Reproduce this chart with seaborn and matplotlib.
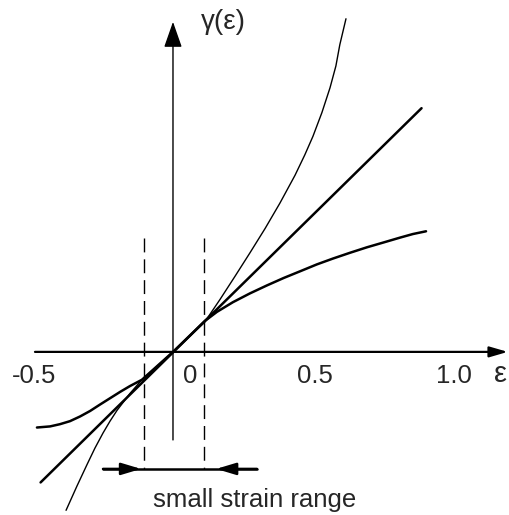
import numpy as np
import pandas as pd
import matplotlib
matplotlib.use('Agg')
import matplotlib.pyplot as plt
import seaborn as sns

# Values (strain eps, gamma(eps))
line_eps = [-0.473, 0.888]
line_gam = [-0.473, 0.883]

# thin curve (stiffening), lower-left branch then upper-right branch
stiff_eps = [-0.382, -0.343, -0.307, -0.279, -0.250, -0.225, -0.200, -0.154, -0.111,
             0.0, 0.114, 0.168, 0.221, 0.275, 0.329, 0.382, 0.436, 0.471, 0.500,
             0.532, 0.561, 0.582, 0.596, 0.618]
stiff_gam = [-0.574, -0.486, -0.408, -0.349, -0.294, -0.251, -0.212, -0.151, -0.101,
             0.0, 0.109, 0.190, 0.273, 0.359, 0.447, 0.539, 0.640, 0.714, 0.781,
             0.867, 0.957, 1.036, 1.113, 1.207]

# thick curve (softening)
soft_eps = [-0.486, -0.439, -0.404, -0.368, -0.332, -0.296, -0.261, -0.225, -0.189,
            -0.154, -0.111, 0.0, 0.114, 0.157, 0.214, 0.275, 0.336, 0.396, 0.454,
            0.514, 0.571, 0.632, 0.693, 0.754, 0.811, 0.857, 0.904]
soft_gam = [-0.274, -0.270, -0.262, -0.251, -0.234, -0.214, -0.191, -0.168, -0.145,
            -0.124, -0.101, 0.0, 0.112, 0.145, 0.180, 0.212, 0.241, 0.268, 0.292,
            0.317, 0.338, 0.359, 0.379, 0.397, 0.414, 0.427, 0.437]

small_range = [-0.104, 0.111]
tick_labels = ['-0.5', '0', '0.5', '1.0']

sns.set_style('white')
plt.rcParams['font.family'] = ['Liberation Sans', 'DejaVu Sans']

fig = plt.figure(figsize=(5.1, 5.15), dpi=100)
ax = fig.add_axes([0, 0, 1, 1])
ax.set_xlim(-0.618, 1.204)
ax.set_ylim(-0.591, 1.275)
ax.axis('off')

df_line = pd.DataFrame({'eps': line_eps, 'gam': line_gam})
df_stiff = pd.DataFrame({'eps': stiff_eps, 'gam': stiff_gam})
df_soft = pd.DataFrame({'eps': soft_eps, 'gam': soft_gam})

sns.lineplot(data=df_stiff, x='eps', y='gam', sort=False, estimator=None,
             color='black', linewidth=1.0, ax=ax)
sns.lineplot(data=df_soft, x='eps', y='gam', sort=False, estimator=None,
             color='black', linewidth=1.8, ax=ax)
sns.lineplot(data=df_line, x='eps', y='gam', sort=False, estimator=None,
             color='black', linewidth=1.8, ax=ax)

# axes with arrows
ax.annotate('', xy=(0, 1.196), xytext=(0, -0.319),
            arrowprops=dict(arrowstyle='-|>,head_length=0.4,head_width=0.14',
                            mutation_scale=40, color='black', lw=1.0,
                            shrinkA=0, shrinkB=0))
ax.annotate('', xy=(1.196, 0), xytext=(-0.493, 0),
            arrowprops=dict(arrowstyle='-|>,head_length=0.55,head_width=0.16',
                            mutation_scale=20, color='black', lw=1.6,
                            shrinkA=0, shrinkB=0))

# small strain range
for xv in small_range:
    ax.plot([xv, xv], [0.413, -0.424], color='black', lw=1.0, dashes=(10, 5))
ax.plot([-0.25, 0.30], [-0.424, -0.424], color='black', lw=1.8)
ax.annotate('', xy=(-0.114, -0.424), xytext=(-0.25, -0.424),
            arrowprops=dict(arrowstyle='-|>,head_length=0.6,head_width=0.18',
                            mutation_scale=20, color='black', lw=1.8,
                            shrinkA=0, shrinkB=0))
ax.annotate('', xy=(0.154, -0.424), xytext=(0.30, -0.424),
            arrowprops=dict(arrowstyle='-|>,head_length=0.6,head_width=0.18',
                            mutation_scale=20, color='black', lw=1.8,
                            shrinkA=0, shrinkB=0))

# labels
tick_x = [-0.496, 0.061, 0.507, 1.004]
for tx, lab in zip(tick_x, tick_labels):
    ax.text(tx, -0.087, lab, ha='center', va='center', fontsize=18.5)
ax.text(1.170, -0.080, 'ε', ha='center', va='center', fontsize=21)
ax.text(0.179, 1.196, 'γ(ε)', ha='center', va='center', fontsize=20)
ax.text(0.293, -0.536, 'small strain range', ha='center', va='center', fontsize=18.5)

plt.savefig('out.png', dpi=100)
